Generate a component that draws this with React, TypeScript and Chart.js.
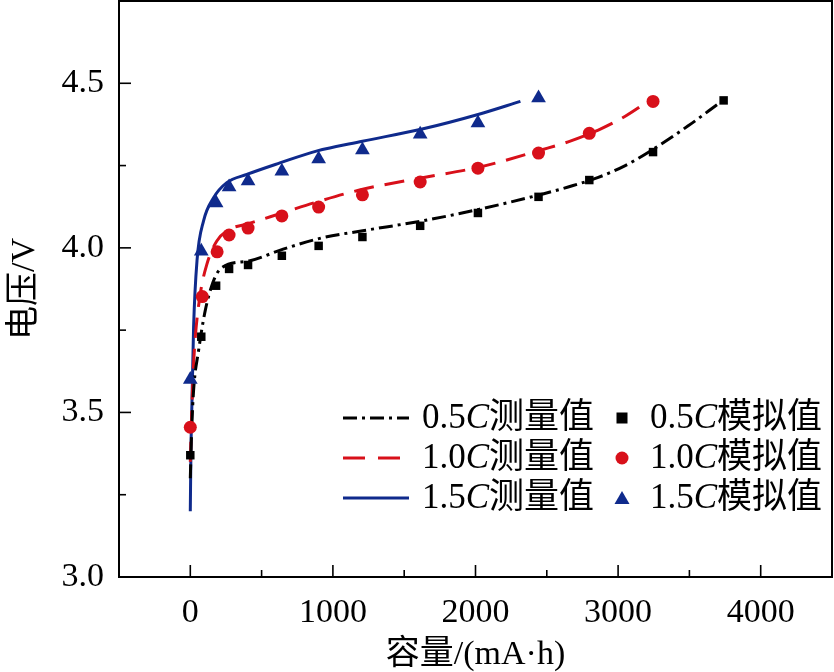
import React, { useEffect, useRef } from "react";
import { Chart, registerables } from "chart.js";

Chart.register(...registerables);

// ---------- data ----------
const xAxisTitle = "容量/(mA·h)";
const yAxisTitle = "电压/V";

const meas05Capacity = [0, 10, 23, 58, 105, 163, 221, 419, 651, 930, 1209, 1628, 2024, 2466, 2650, 2861, 3050, 3210, 3489, 3710];
const meas05Voltage = [3.3, 3.45, 3.567, 3.688, 3.81, 3.9, 3.94, 3.961, 3.996, 4.031, 4.052, 4.082, 4.117, 4.163, 4.185, 4.214, 4.25, 4.29, 4.37, 4.44];

const meas10Capacity = [0, 10, 20, 35, 70, 116, 186, 279, 396, 651, 907, 1209, 1628, 2024, 2466, 2650, 2861, 3050, 3210];
const meas10Voltage = [3.35, 3.5, 3.62, 3.728, 3.86, 3.95, 4.021, 4.057, 4.072, 4.107, 4.142, 4.178, 4.213, 4.245, 4.298, 4.322, 4.358, 4.4, 4.445];

const meas15Capacity = [0, 5, 12, 23, 47, 93, 163, 256, 396, 628, 884, 1207, 1626, 2024, 2315];
const meas15Voltage = [3.2, 3.4, 3.536, 3.758, 3.961, 4.082, 4.152, 4.198, 4.223, 4.258, 4.294, 4.324, 4.361, 4.406, 4.445];

const sim05Capacity = [0, 77, 181, 272, 405, 642, 900, 1207, 1612, 2017, 2442, 2798, 3245, 3740];
const sim05Voltage = [3.37, 3.73, 3.885, 3.936, 3.948, 3.976, 4.006, 4.033, 4.067, 4.106, 4.155, 4.206, 4.291, 4.448];

const sim10Capacity = [0, 84, 188, 272, 405, 642, 900, 1207, 1612, 2017, 2442, 2798, 3245];
const sim10Voltage = [3.455, 3.852, 3.988, 4.039, 4.06, 4.097, 4.124, 4.161, 4.2, 4.242, 4.288, 4.348, 4.445];

const sim15Capacity = [0, 77, 181, 272, 405, 642, 900, 1207, 1612, 2017, 2442];
const sim15Voltage = [3.6, 3.99, 4.136, 4.185, 4.203, 4.233, 4.27, 4.297, 4.345, 4.379, 4.455];

const legendRates = ["0.5", "1.0", "1.5"];
const measuredSuffix = "测量值";
const simulatedSuffix = "模拟值";

// ---------- styles ----------
const BLACK = "#000000";
const RED = "#d8101a";
const BLUE = "#0f2a8c";
const SERIF = '"Liberation Serif", "Times New Roman", "Noto Sans CJK SC", serif';

const toPoints = (xs: number[], ys: number[]) => xs.map((x, i) => ({ x, y: ys[i] }));

const frameAndTicks = {
  id: "frameAndTicks",
  afterDatasetsDraw(chart: any) {
    const { ctx, chartArea, scales } = chart;
    const { left, right, top, bottom } = chartArea;
    ctx.save();
    ctx.strokeStyle = "#000";
    ctx.lineWidth = 1.6;
    scales.x.ticks.forEach((t: any) => {
      const v = t.value;
      const px = scales.x.getPixelForValue(v);
      if (px <= left + 1 || px >= right - 1) return;
      const major = Math.abs(v % 1000) < 1e-6;
      const len = major ? 12 : 7;
      ctx.beginPath();
      ctx.moveTo(px, bottom);
      ctx.lineTo(px, bottom - len);
      ctx.stroke();
    });
    scales.y.ticks.forEach((t: any) => {
      const v = t.value;
      const py = scales.y.getPixelForValue(v);
      if (py <= top + 1 || py >= bottom - 1) return;
      const major = Math.abs(v * 2 - Math.round(v * 2)) < 1e-6;
      const len = major ? 12 : 7;
      ctx.beginPath();
      ctx.moveTo(left, py);
      ctx.lineTo(left + len, py);
      ctx.stroke();
    });
    ctx.lineWidth = 2;
    ctx.strokeRect(left, top, right - left, bottom - top);
    ctx.restore();
  },
};

function LineSample({ color, dash }: { color: string; dash?: string }) {
  return (
    <svg width={66} height={10} style={{ display: "block" }}>
      <line x1={0} y1={5} x2={66} y2={5} stroke={color} strokeWidth={3} strokeDasharray={dash} />
    </svg>
  );
}

function Marker({ kind, color }: { kind: string; color: string }) {
  return (
    <svg width={18} height={18} style={{ display: "block" }}>
      {kind === "rect" && <rect x={3.5} y={3.5} width={11} height={11} fill={color} />}
      {kind === "circle" && <circle cx={9} cy={9} r={6.5} fill={color} />}
      {kind === "triangle" && <polygon points="9,2 16.5,15 1.5,15" fill={color} />}
    </svg>
  );
}

export default function App() {
  const canvasRef = useRef<HTMLCanvasElement | null>(null);

  useEffect(() => {
    const prevMargin = document.body.style.margin;
    document.body.style.margin = "0";
    const canvas = canvasRef.current;
    if (!canvas) return;
    const chart = new Chart(canvas, {
      type: "scatter",
      data: {
        datasets: [
          {
            label: "0.5C测量值",
            type: "line",
            data: toPoints(meas05Capacity, meas05Voltage),
            borderColor: BLACK,
            borderWidth: 3,
            borderDash: [14, 5, 3, 5],
            pointRadius: 0,
            cubicInterpolationMode: "monotone",
            fill: false,
            order: 3,
          },
          {
            label: "1.0C测量值",
            type: "line",
            data: toPoints(meas10Capacity, meas10Voltage),
            borderColor: RED,
            borderWidth: 3,
            borderDash: [20, 11],
            pointRadius: 0,
            cubicInterpolationMode: "monotone",
            fill: false,
            order: 3,
          },
          {
            label: "1.5C测量值",
            type: "line",
            data: toPoints(meas15Capacity, meas15Voltage),
            borderColor: BLUE,
            borderWidth: 3,
            pointRadius: 0,
            cubicInterpolationMode: "monotone",
            fill: false,
            order: 3,
          },
          {
            label: "0.5C模拟值",
            data: toPoints(sim05Capacity, sim05Voltage),
            pointStyle: "rect",
            pointRadius: 6,
            backgroundColor: BLACK,
            borderColor: BLACK,
            borderWidth: 0,
            order: 1,
          },
          {
            label: "1.0C模拟值",
            data: toPoints(sim10Capacity, sim10Voltage),
            pointStyle: "circle",
            pointRadius: 6.5,
            backgroundColor: RED,
            borderColor: RED,
            borderWidth: 0,
            order: 1,
          },
          {
            label: "1.5C模拟值",
            data: toPoints(sim15Capacity, sim15Voltage),
            pointStyle: "triangle",
            pointRadius: 8.5,
            backgroundColor: BLUE,
            borderColor: BLUE,
            borderWidth: 0,
            order: 1,
          },
        ],
      },
      options: {
        responsive: false,
        animation: false,
        devicePixelRatio: 1,
        layout: { autoPadding: false, padding: { top: 1, right: 2, left: 0, bottom: 0 } },
        plugins: { legend: { display: false }, tooltip: { enabled: false } },
        scales: {
          x: {
            type: "linear",
            min: -500,
            max: 4500,
            afterFit: (s: any) => {
              s.height = 95;
              s.paddingLeft = 0;
              s.paddingRight = 0;
            },
            border: { display: false },
            grid: { display: false, drawTicks: false },
            ticks: {
              stepSize: 500,
              autoSkip: false,
              maxRotation: 0,
              padding: 16,
              color: "#000",
              font: { family: SERIF, size: 34 },
              callback: (v: any) => (Math.abs(Number(v) % 1000) < 1e-6 ? String(v) : ""),
            },
            title: {
              display: true,
              text: xAxisTitle,
              color: "#000",
              font: { family: SERIF, size: 34, lineHeight: 1 },
              padding: { top: 0, bottom: 0 },
            },
          },
          y: {
            type: "linear",
            min: 3.0,
            max: 4.75,
            afterFit: (s: any) => {
              s.width = 119;
              s.paddingTop = 0;
              s.paddingBottom = 0;
            },
            border: { display: false },
            grid: { display: false, drawTicks: false },
            ticks: {
              stepSize: 0.25,
              autoSkip: false,
              padding: 15,
              color: "#000",
              font: { family: SERIF, size: 34 },
              callback: (v: any) => {
                const n = Number(v);
                return Math.abs(n * 2 - Math.round(n * 2)) < 1e-6 ? n.toFixed(1) : "";
              },
            },
            title: {
              display: true,
              text: yAxisTitle,
              color: "#000",
              font: { family: SERIF, size: 34, lineHeight: 1 },
              padding: { top: 8, bottom: 0 },
            },
          },
        },
      },
      plugins: [frameAndTicks],
    } as any);
    return () => {
      chart.destroy();
      document.body.style.margin = prevMargin;
    };
  }, []);

  const rowCenters = [418, 458, 498];
  const lineColors = [BLACK, RED, BLUE];
  const lineDashes = ["14 5 3 5", "22 13", undefined];
  const markerKinds = ["rect", "circle", "triangle"];
  const textStyle: React.CSSProperties = {
    position: "absolute",
    fontFamily: SERIF,
    fontSize: 35,
    lineHeight: "36px",
    height: 36,
    color: "#000",
    whiteSpace: "nowrap",
  };

  return (
    <div style={{ position: "relative", width: 834, height: 672, background: "#fff" }}>
      <canvas ref={canvasRef} width={834} height={672} style={{ display: "block" }} />
      {legendRates.map((rate, i) => (
        <React.Fragment key={rate}>
          <div style={{ position: "absolute", left: 343, top: rowCenters[i] - 5 }}>
            <LineSample color={lineColors[i]} dash={lineDashes[i]} />
          </div>
          <div style={{ ...textStyle, left: 422, top: rowCenters[i] - 19 }}>
            {rate}
            <i>C</i>
            {measuredSuffix}
          </div>
          <div style={{ position: "absolute", left: 613, top: rowCenters[i] - 9 }}>
            <Marker kind={markerKinds[i]} color={lineColors[i]} />
          </div>
          <div style={{ ...textStyle, left: 650, top: rowCenters[i] - 19 }}>
            {rate}
            <i>C</i>
            {simulatedSuffix}
          </div>
        </React.Fragment>
      ))}
    </div>
  );
}
